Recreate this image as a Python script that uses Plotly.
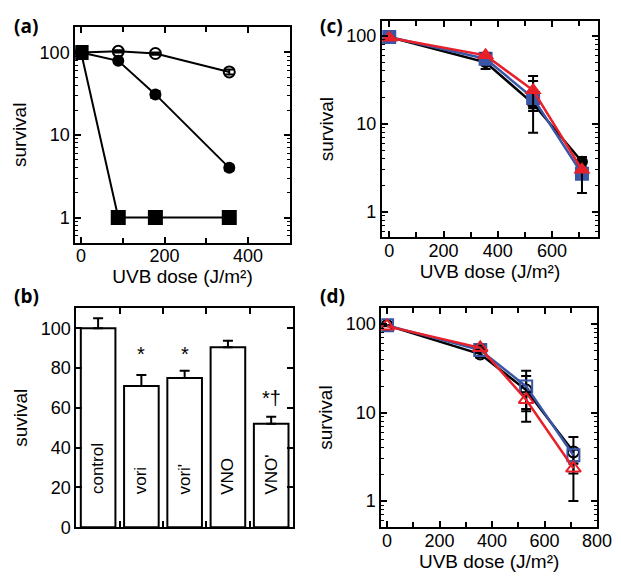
import plotly.graph_objects as go

# (a) survival vs UVB dose
dose_a = [0, 89, 178, 355]
open_circ_a = [100, 103, 97, 58]
open_circ_a_err = [3, 3, 3, 4]
fill_circ_a = [100, 79, 31, 4]
fill_circ_a_err = [3, 4, 3, 0.3]
fill_sq_a = [100, 1, 1, 1]

# (b) bars
bar_names = ["control", "vori", "vori'", "VNO", "VNO'"]
bar_vals = [100, 71, 75, 90.5, 52]
bar_err = [5, 5.5, 3.6, 3.2, 3.6]
bar_marks = ["", "*", "*", "", "*†"]
bar_mark_y = [0, 87, 87, 0, 65]

# (c) filled markers
dose_cd = [0, 355, 530, 710]
c_black = [97, 50, 17, 3.7]
c_black_plus = [0, 4, 3, 0.5]
c_black_minus = [0, 8, 3, 0.5]
c_blue = [97, 55, 19.6, 2.7]
c_blue_plus = [0, 3, 11, 0.3]
c_blue_minus = [0, 3, 11.7, 0.3]
c_red = [95, 60, 24, 3.0]
c_red_plus = [0, 3, 11, 1.2]
c_red_minus = [0, 3, 9, 1.37]

# (d) open markers
d_black = [97, 46, 18, 3.6]
d_black_plus = [0, 4, 8, 1.7]
d_black_minus = [0, 4, 7.6, 2.6]
d_blue = [97, 51, 19.8, 3.3]
d_blue_plus = [0, 3, 10, 0.5]
d_blue_minus = [0, 3, 11.9, 0.5]
d_red = [95, 54, 14, 2.35]
d_red_plus = [0, 3, 3, 0.3]
d_red_minus = [0, 3, 3, 0.3]

BLUE = "#3a57a7"
RED = "#e8202a"
FONT = "Liberation Sans, Arial, sans-serif"

minor_log = [v * m for m in (0.1, 1, 10, 100) for v in range(2, 10)]

fig = go.Figure()


def errs(plus, minus):
    return dict(type="data", array=plus, arrayminus=minus, symmetric=False,
                color="black", thickness=2, width=5)


# ---- (a)
fig.add_trace(go.Scatter(x=dose_a, y=open_circ_a, mode="lines+markers",
                         line=dict(color="black", width=2),
                         marker=dict(symbol="circle-open", size=11, color="black", line=dict(width=2)),
                         error_y=errs(open_circ_a_err, open_circ_a_err),
                         xaxis="x", yaxis="y"))
fig.add_trace(go.Scatter(x=dose_a, y=fill_circ_a, mode="lines+markers",
                         line=dict(color="black", width=2),
                         marker=dict(symbol="circle", size=12, color="black"),
                         error_y=errs(fill_circ_a_err, fill_circ_a_err),
                         xaxis="x", yaxis="y"))
fig.add_trace(go.Scatter(x=dose_a, y=fill_sq_a, mode="lines+markers",
                         line=dict(color="black", width=2),
                         marker=dict(symbol="square", size=15, color="black"),
                         xaxis="x", yaxis="y"))

# ---- (b)
fig.add_trace(go.Bar(x=list(range(len(bar_names))), y=bar_vals, width=0.8,
                     marker=dict(color="white", line=dict(color="black", width=2)),
                     error_y=errs(bar_err, [0] * len(bar_err)),
                     xaxis="x2", yaxis="y2"))

# ---- (c)
for ys, p, m, col, sym, sz in [
    (c_black, c_black_plus, c_black_minus, "black", "circle", 12),
    (c_blue, c_blue_plus, c_blue_minus, BLUE, "square", 14),
    (c_red, c_red_plus, c_red_minus, RED, "triangle-up", 15),
]:
    fig.add_trace(go.Scatter(x=dose_cd, y=ys, mode="lines+markers",
                             line=dict(color=col, width=2.5),
                             marker=dict(symbol=sym, size=sz, color=col),
                             error_y=errs(p, m), xaxis="x3", yaxis="y3"))

# ---- (d)
for ys, p, m, col, sym, sz in [
    (d_black, d_black_plus, d_black_minus, "black", "circle-open", 11),
    (d_blue, d_blue_plus, d_blue_minus, BLUE, "square-open", 12),
    (d_red, d_red_plus, d_red_minus, RED, "triangle-up-open", 13),
]:
    fig.add_trace(go.Scatter(x=dose_cd, y=ys, mode="lines+markers",
                             line=dict(color=col, width=2.5),
                             marker=dict(symbol=sym, size=sz, color=col, line=dict(width=2, color=col)),
                             error_y=errs(p, m), xaxis="x4", yaxis="y4"))

base = dict(showline=True, linecolor="black", linewidth=2, mirror="allticks",
            ticks="inside", ticklen=6, tickwidth=1.5, tickcolor="black",
            showgrid=False, zeroline=False,
            tickfont=dict(size=18, color="black", family=FONT))
linx = dict(base, tick0=0, dtick=200, ticklabelstandoff=-4,
            minor=dict(tick0=0, dtick=100, ticks="inside", ticklen=5, tickcolor="black", tickwidth=1.5))
logax = dict(base, type="log", tickvals=[1, 10, 100], ticktext=["1", "10", "100"],
             minor=dict(tickvals=minor_log, ticks="inside", ticklen=3, tickcolor="black", tickwidth=1))
tfont = dict(size=19, color="black", family=FONT)
xtitle = dict(text="UVB dose (J/m²)", font=tfont, standoff=0)

fig.update_layout(
    width=621, height=580, margin=dict(l=0, r=0, t=0, b=0),
    paper_bgcolor="white", plot_bgcolor="white", showlegend=False,
    xaxis=dict(linx, domain=[0.111, 0.465], range=[-14, 500], title=xtitle, anchor="y"),
    yaxis=dict(logax, domain=[0.588, 0.967], range=[-0.306, 2.31], anchor="x",
               title=dict(text="survival", font=tfont, standoff=8)),
    xaxis2=dict(base, domain=[0.113, 0.470], range=[-0.5, 4.5],
                tickvals=[0.5, 1.5, 2.5, 3.5], showticklabels=False, anchor="y2"),
    yaxis2=dict(base, domain=[0.089, 0.473], range=[0, 110], anchor="x2",
                tickvals=[0, 20, 40, 60, 80, 100],
                title=dict(text="suvival", font=tfont, standoff=8)),
    xaxis3=dict(linx, domain=[0.617, 0.974], range=[-27, 770], title=xtitle, anchor="y3"),
    yaxis3=dict(logax, domain=[0.598, 0.977], range=[-0.29, 2.168], anchor="x3",
                title=dict(text="survival", font=tfont, standoff=8)),
    xaxis4=dict(linx, domain=[0.616, 0.972], range=[-22, 800], title=xtitle, anchor="y4"),
    yaxis4=dict(logax, domain=[0.089, 0.474], range=[-0.296, 2.185], anchor="x4",
                title=dict(text="survival", font=tfont, standoff=8)),
)

annots = []
for lab, x, y in [("(a)", 4, 3), ("(b)", 4, 278), ("(c)", 318, 3), ("(d)", 318, 278)]:
    annots.append(dict(text="<b>" + lab + "</b>", x=x / 621, y=1 - y / 580, xref="paper", yref="paper",
                       xanchor="left", yanchor="top", showarrow=False,
                       font=dict(size=19, color="black", family="Open Sans, sans-serif")))
for i, name in enumerate(bar_names):
    annots.append(dict(text=name, x=i, y=15.5, xref="x2", yref="y2", textangle=-90,
                       xanchor="center", yanchor="bottom", showarrow=False,
                       font=dict(size=17, color="black", family=FONT)))
    if bar_marks[i]:
        annots.append(dict(text=bar_marks[i], x=i, y=bar_mark_y[i], xref="x2", yref="y2",
                           showarrow=False, font=dict(size=20, color="black", family=FONT)))
fig.update_layout(annotations=annots)

fig.write_html("out.html")
